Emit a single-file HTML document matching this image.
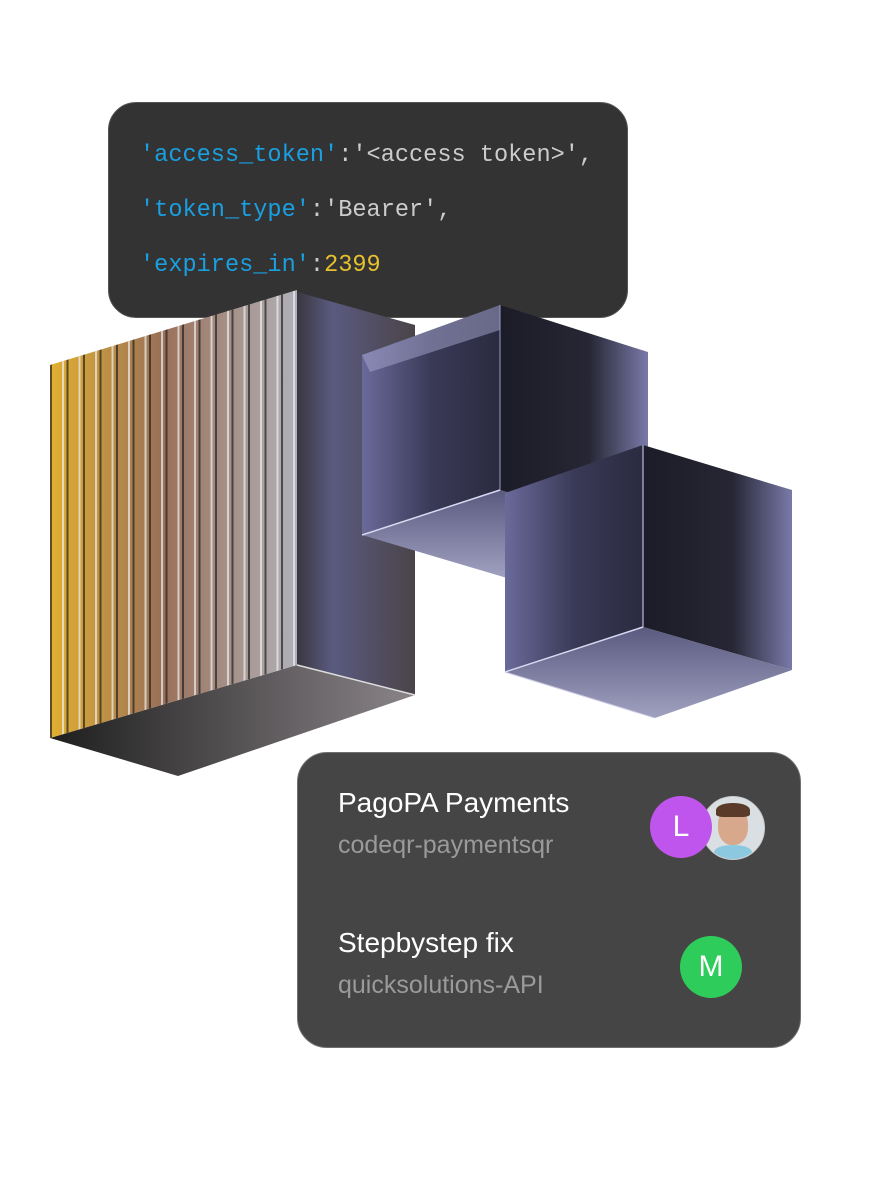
<!DOCTYPE html>
<html><head><meta charset="utf-8"><style>
body{margin:0;width:890px;height:1200px;background:#fff;position:relative;overflow:hidden;font-family:"Liberation Sans",sans-serif}
.code{position:absolute;left:108px;top:102px;width:520px;height:216px;background:#333;border:1px solid #555;border-radius:28px;box-sizing:border-box}
.code div{position:absolute;left:31px;font-family:"Liberation Mono",monospace;font-size:23.6px;color:#ccc;white-space:pre}
.b{color:#1a9fe0}.y{color:#e6c02e}
svg{position:absolute;left:0;top:0}
.card{position:absolute;left:297px;top:752px;width:504px;height:296px;background:#454545;border:1.5px solid #707070;border-radius:30px;box-sizing:border-box}
.t{position:absolute;left:40px;color:#fff;font-size:28px}
.s{position:absolute;left:40px;color:#9a9a9a;font-size:25px}
.c{position:absolute;width:62px;height:62px;border-radius:50%;color:#fff;font-size:30px;text-align:center;line-height:62px}
</style></head><body>
<div class="code">
<div style="top:39px"><span class="b">'access_token'</span>:'&lt;access token&gt;',</div>
<div style="top:94px"><span class="b">'token_type'</span>:'Bearer',</div>
<div style="top:149px"><span class="b">'expires_in'</span>:<span class="y">2399</span></div>
</div>
<svg width="890" height="1200">
<defs>
<linearGradient id="fr" x1="0" x2="1"><stop offset="0" stop-color="#e2b030"/><stop offset=".45" stop-color="#9a7058"/><stop offset="1" stop-color="#b0b0b8"/></linearGradient>
<linearGradient id="sd" x1="0" x2="1"><stop offset="0" stop-color="#3a3840"/><stop offset=".3" stop-color="#5a5a80"/><stop offset="1" stop-color="#4a4448"/></linearGradient>
<linearGradient id="bt" x1="0" x2="1"><stop offset="0" stop-color="#1e1e1e"/><stop offset="1" stop-color="#8a8488"/></linearGradient>
<linearGradient id="lf" x1="0" x2="1"><stop offset="0" stop-color="#6a6a9a"/><stop offset=".5" stop-color="#3a3a58"/><stop offset="1" stop-color="#2a2a40"/></linearGradient>
<linearGradient id="rf" x1="0" x2="1"><stop offset="0" stop-color="#1c1c28"/><stop offset=".6" stop-color="#262634"/><stop offset="1" stop-color="#7a7aaa"/></linearGradient>
<linearGradient id="bf" x1="0" y1="0" x2="0" y2="1"><stop offset="0" stop-color="#5a5a80"/><stop offset="1" stop-color="#a0a0c0"/></linearGradient>
<pattern id="st" width="16.5" height="10" patternUnits="userSpaceOnUse" x="50"><rect x="0" width="2" height="10" fill="#222" opacity=".7"/><rect x="12" width="2" height="10" fill="#eee" opacity=".7"/></pattern>
</defs>
<!-- block -->
<polygon points="297,292 415,325 415,695 297,665" fill="url(#sd)"/>
<polygon points="50,738 297,665 415,695 178,776" fill="url(#bt)"/>
<polygon points="50,365 297,290 297,665 50,738" fill="url(#fr)"/>
<polygon points="50,365 297,290 297,665 50,738" fill="url(#st)"/>
<line x1="297" y1="665" x2="415" y2="695" stroke="#ddd" stroke-width="1.5"/>
<!-- cube 1 -->
<polygon points="500,305 362,355 362,535 500,490" fill="url(#lf)"/>
<polygon points="500,305 648,352 648,535 500,490" fill="url(#rf)"/>
<polygon points="500,490 362,535 507,578 648,535" fill="url(#bf)"/>
<polygon points="362,355 500,305 500,330 370,372" fill="#a8a8d0" opacity=".5"/>
<line x1="362" y1="535" x2="500" y2="490" stroke="#d8d8f0" stroke-width="1.5"/>
<line x1="500" y1="305" x2="500" y2="490" stroke="#9a9ac8" stroke-width="1"/>
<!-- cube 2 -->
<polygon points="643,445 505,493 505,672 643,627" fill="url(#lf)"/>
<polygon points="643,445 792,490 792,670 643,627" fill="url(#rf)"/>
<polygon points="643,627 505,672 655,718 792,670" fill="url(#bf)"/>
<line x1="505" y1="672" x2="643" y2="627" stroke="#d8d8f0" stroke-width="1.5"/>
<line x1="643" y1="445" x2="643" y2="627" stroke="#b8b8e0" stroke-width="1.2"/>
<line x1="505" y1="672" x2="655" y2="718" stroke="#c8c8e0" stroke-width="1"/>
</svg>
<div class="card">
<div class="t" style="top:34px">PagoPA Payments</div>
<div class="s" style="top:78px">codeqr-paymentsqr</div>
<div class="t" style="top:174px">Stepbystep fix</div>
<div class="s" style="top:218px">quicksolutions-API</div>
<div class="c" style="left:403px;top:43px;background:#d9dfe3;border:1px solid #ccc;overflow:hidden"><div style="position:absolute;left:16px;top:10px;width:30px;height:38px;border-radius:45%;background:#d8a88c"></div><div style="position:absolute;left:14px;top:6px;width:34px;height:14px;border-radius:50% 50% 20% 20%;background:#5a3a28"></div><div style="position:absolute;left:12px;top:48px;width:38px;height:14px;border-radius:50% 50% 0 0;background:#8cc8e0"></div></div>
<div class="c" style="left:352px;top:43px;background:#bf55ec">L</div>
<div class="c" style="left:382px;top:183px;background:#2ecc5a">M</div>
</div>
</body></html>
